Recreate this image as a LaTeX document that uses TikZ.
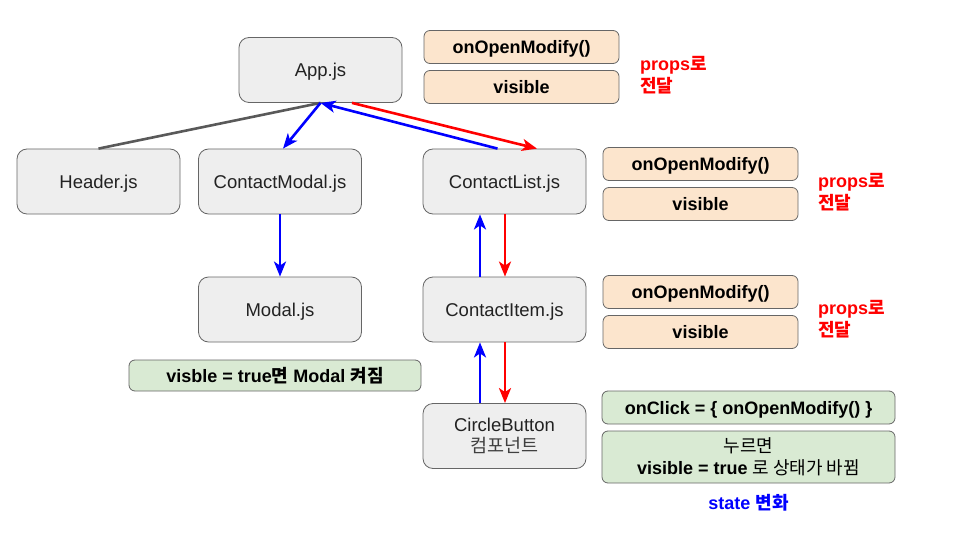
\documentclass[tikz,border=0pt]{standalone}
\usepackage{fontspec}
\setmainfont{Liberation Sans}
\newfontfamily\kr{Noto Sans CJK KR}
\usetikzlibrary{arrows.meta}
\definecolor{gfill}{HTML}{EEEEEE}
\definecolor{ofill}{HTML}{FCE5CD}
\definecolor{grfill}{HTML}{D9EAD3}
\definecolor{bord}{HTML}{666666}
\definecolor{txt}{HTML}{222222}
\definecolor{gline}{HTML}{595959}
\definecolor{myblue}{HTML}{0000FF}
\definecolor{myred}{HTML}{FF0000}
\tikzset{
  comp/.style={draw=bord, line width=0.8pt, fill=gfill, rounded corners=10pt, minimum width=163pt, minimum height=65pt, align=center, font=\fontsize{18.5}{22}\selectfont, text=txt, inner sep=0pt},
  single/.style={text height=13.2pt, text depth=0pt},
  obox/.style={draw=bord, line width=0.8pt, fill=ofill, rounded corners=6pt, minimum width=195pt, minimum height=33pt, font=\fontsize{18}{20}\selectfont\bfseries, text=black, inner sep=0pt, single},
  gbox/.style={draw=bord, line width=0.8pt, fill=grfill, rounded corners=6pt, align=center, font=\fontsize{18}{22}\selectfont\bfseries, text=black, inner sep=0pt},
  rtxt/.style={anchor=west, align=left, text=myred, font=\fontsize{18}{22}\selectfont\bfseries, inner sep=0pt},
  tipA/.style={-{Stealth[length=15pt,width=12pt,inset=4pt]}},
  barrow/.style={tipA, draw=myblue, line width=2.6pt},
  rarrow/.style={tipA, draw=myred, line width=2.6pt},
  gconn/.style={draw=gline, line width=2.6pt}
}
\begin{document}
\begin{tikzpicture}[x=1pt,y=-1pt]
\useasboundingbox (0,0) rectangle (960,540);
% component nodes
\node[comp, single] (app) at (320.5,70) {App.js};
\node[comp, single] (header) at (98.5,181.5) {Header.js};
\node[comp, single] (cmodal) at (280,181.5) {ContactModal.js};
\node[comp, single] (clist) at (504.5,181.5) {ContactList.js};
\node[comp, single] (modal) at (280,309.5) {Modal.js};
\node[comp, single] (citem) at (504.5,309.5) {ContactItem.js};
\node[comp] (cbtn) at (504.5,436) {CircleButton\\[-1pt]{\kr\color{black!75} 컴포넌트}};
% orange boxes
\node[obox] (o1) at (521.5,47) {onOpenModify()};
\node[obox] (o2) at (521.5,87) {visible};
\node[obox] (o3) at (700.5,164) {onOpenModify()};
\node[obox] (o4) at (700.5,204) {visible};
\node[obox] (o5) at (700.5,292) {onOpenModify()};
\node[obox] (o6) at (700.5,332) {visible};
% red notes
\node[rtxt] (r1) at (640,75) {props{\kr 로}\\{\kr 전달}};
\node[rtxt] (r2) at (818,192) {props{\kr 로}\\{\kr 전달}};
\node[rtxt] (r3) at (818,319) {props{\kr 로}\\{\kr 전달}};
% green boxes
\node[gbox, single, minimum width=292pt, minimum height=31pt] (g1) at (275,375.5) {visble = true{\kr 면} Modal {\kr 켜짐}};
\node[gbox, single, minimum width=293pt, minimum height=33pt] (g2) at (748.5,407.5) {onClick = \{ onOpenModify() \}};
\node[gbox, minimum width=293pt, minimum height=52pt] (g3) at (748.5,457) {{\kr\mdseries 누르면}\\visible = true {\kr\mdseries 로 상태가 바뀜}};
\node[text=myblue, font=\fontsize{18}{20}\selectfont\bfseries, inner sep=0pt] (st) at (748.5,503) {state {\kr 변화}};
% connectors
\draw[gconn] (header.north) -- (app.south);
\draw[barrow] (app.south) -- ([xshift=3pt]cmodal.north);
\draw[barrow] ([xshift=-7pt]clist.north) -- (app.south);
\draw[rarrow] ([xshift=31.5pt]app.south) -- ([xshift=32.5pt]clist.north);
\draw[barrow] (cmodal.south) -- (modal.north);
\draw[barrow] ([xshift=-24.5pt]citem.north) -- ([xshift=-24.5pt]clist.south);
\draw[rarrow] ([xshift=0.5pt]clist.south) -- ([xshift=0.5pt]citem.north);
\draw[barrow] ([xshift=-24.5pt]cbtn.north) -- ([xshift=-24.5pt]citem.south);
\draw[rarrow] ([xshift=0.5pt]citem.south) -- ([xshift=0.5pt]cbtn.north);
\end{tikzpicture}
\end{document}
